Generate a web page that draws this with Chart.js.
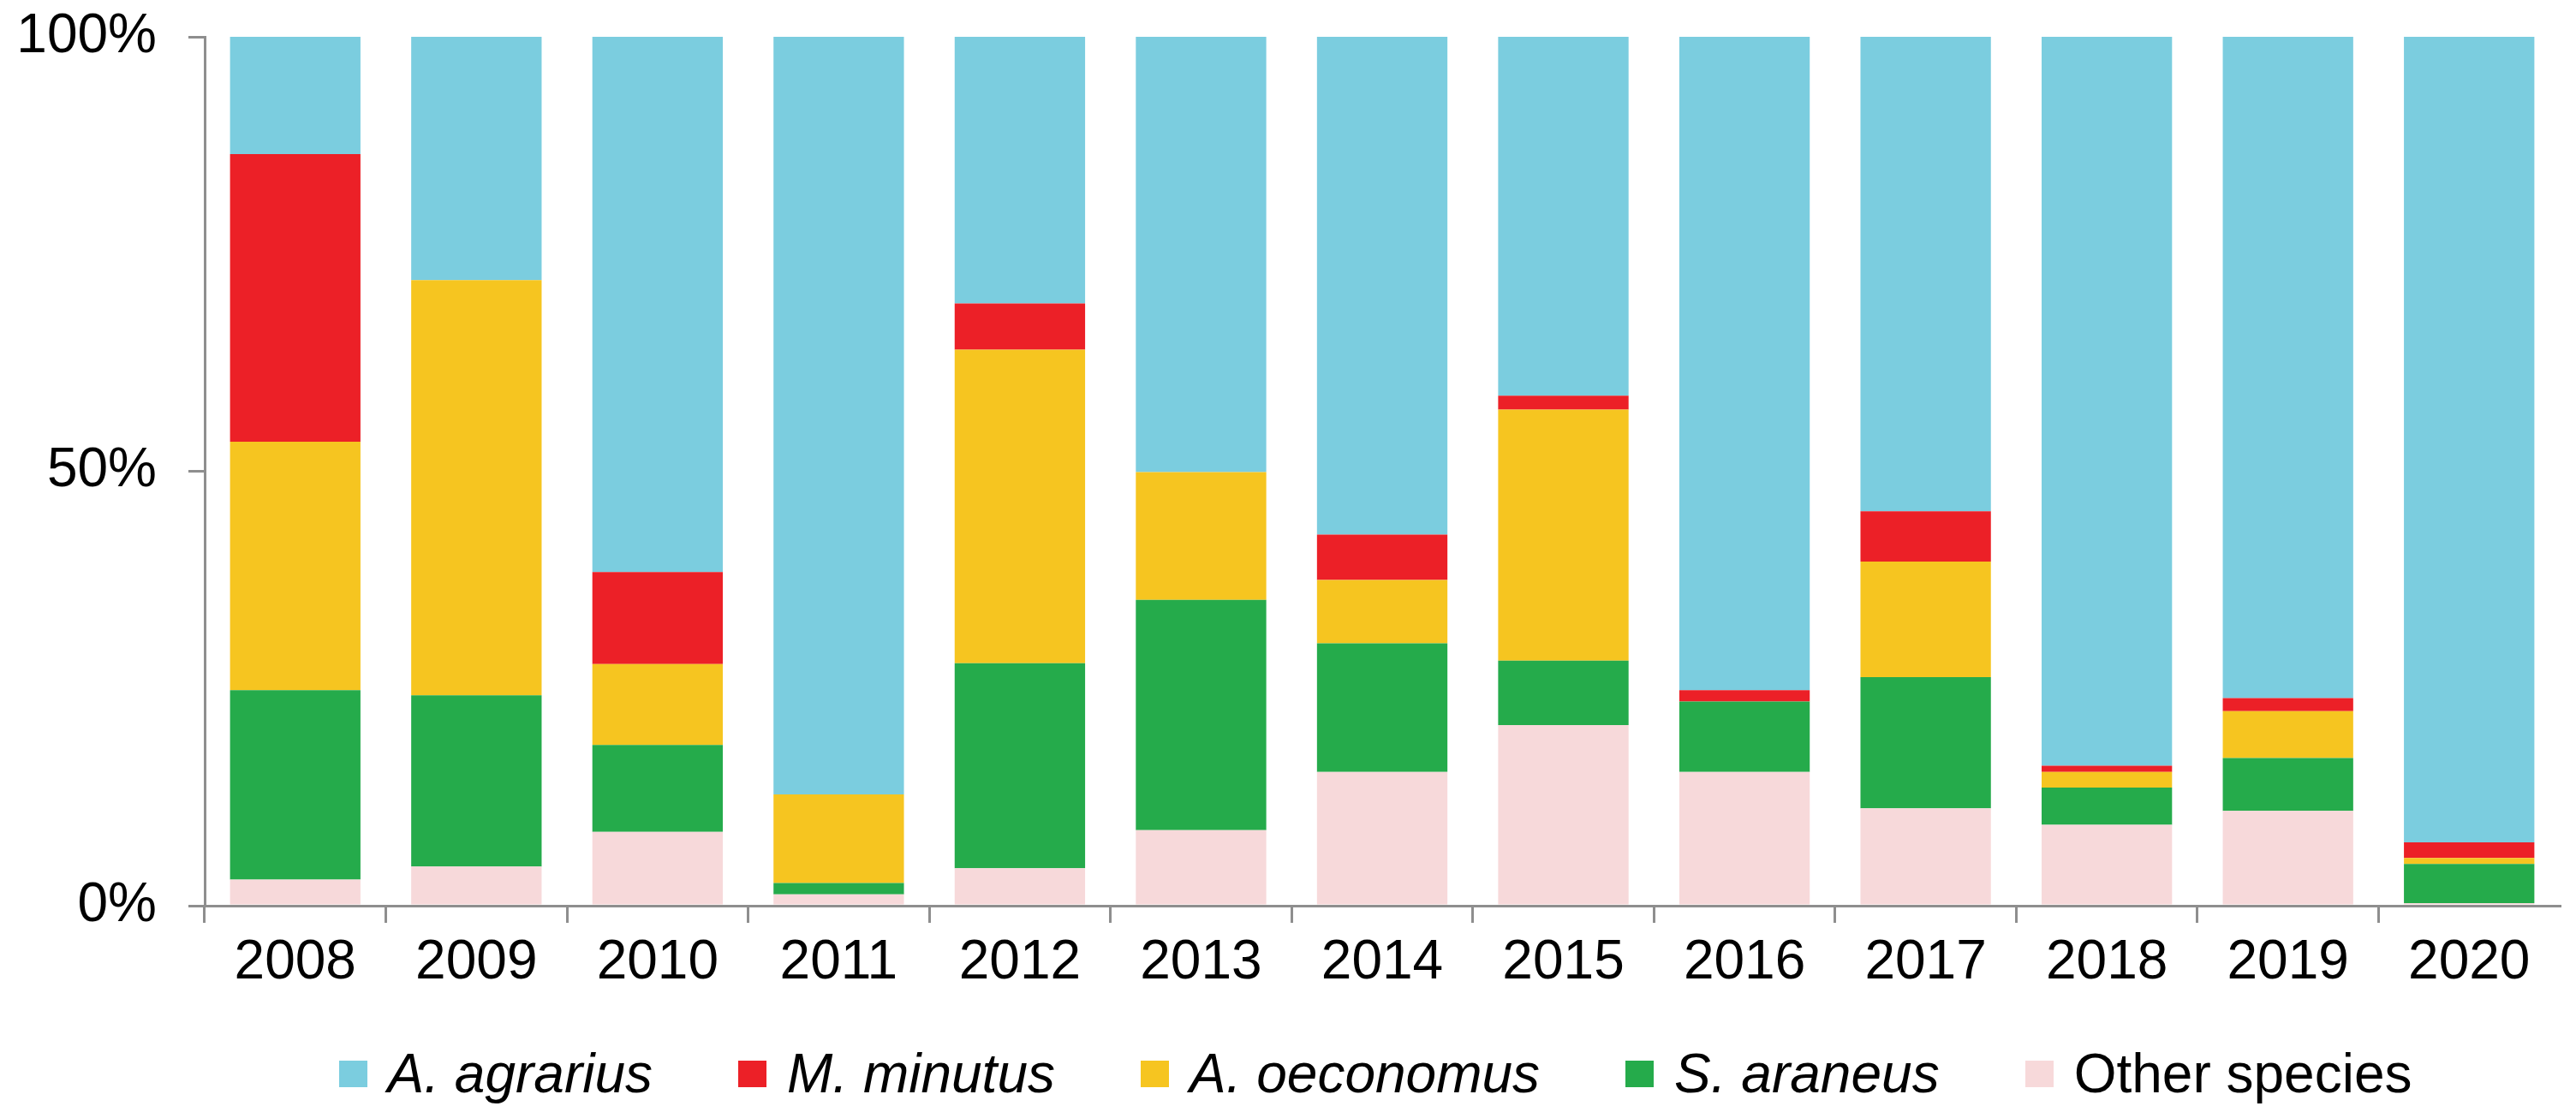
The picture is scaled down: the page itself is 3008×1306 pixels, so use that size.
<!DOCTYPE html>
<html>
<head>
<meta charset="utf-8">
<script src="https://cdn.jsdelivr.net/npm/chart.js@4/dist/chart.umd.min.js"></script>
<style>
  html, body { margin: 0; padding: 0; background: #ffffff; }
  #wrap { position: relative; width: 3008px; height: 1306px; }
  #legend {
    position: absolute; left: 231px; width: 2750px; top: 1218px; height: 72px;
    display: flex; justify-content: center; align-items: center;
    font-family: "Liberation Sans", Arial, sans-serif; font-size: 64px; color: #000;
  }
  .item { display: flex; align-items: center; margin: 0 50px; white-space: nowrap; }
  .box { width: 33px; height: 31px; margin-right: 24px; }
</style>
</head>
<body>
<div id="wrap">
  <canvas id="c" width="3008" height="1306"></canvas>
  <div id="legend"></div>
</div>
<script>
// ---- data (percent of catch) ----
const years = ['2008','2009','2010','2011','2012','2013','2014','2015','2016','2017','2018','2019','2020'];
const agrarius  = [13.5, 28.0, 61.6, 87.2, 30.7, 50.1, 57.3, 41.3, 75.2, 54.6, 83.9, 76.1, 92.7];
const minutus   = [33.1,  0.0, 10.6,  0.0,  5.3,  0.0,  5.2,  1.6,  1.3,  5.8,  0.7,  1.5,  1.8];
const oeconomus = [28.6, 47.8,  9.3, 10.2, 36.1, 14.7,  7.3, 28.9,  0.0, 13.3,  1.8,  5.4,  0.7];
const araneus   = [21.8, 19.7, 10.0,  1.3, 23.6, 26.5, 14.8,  7.4,  8.1, 15.1,  4.3,  6.1,  4.5];
const other     = [ 3.0,  4.5,  8.5,  1.3,  4.3,  8.7, 15.4, 20.8, 15.4, 11.2,  9.3, 10.9,  0.3];
const yTicks = [0, 50, 100];
const seriesNames = ['A. agrarius', 'M. minutus', 'A. oeconomus', 'S. araneus', 'Other species'];
const italicNames = [true, true, true, true, false];
const colors = ['#7BCDDF', '#EC2027', '#F6C520', '#25AB4B', '#F7D9DA'];
const seriesData = [agrarius, minutus, oeconomus, araneus, other];

const axisGray = '#8e8e8e';
const fontFamily = '"Liberation Sans", Arial, sans-serif';
Chart.defaults.font.family = fontFamily;
Chart.defaults.color = '#000';

// datasets bottom -> top
const datasets = [];
for (let i = seriesNames.length - 1; i >= 0; i--) {
  datasets.push({
    label: seriesNames[i],
    data: seriesData[i],
    backgroundColor: colors[i],
    borderWidth: 0,
    categoryPercentage: 0.72,
    barPercentage: 1.0
  });
}

const chart = new Chart(document.getElementById('c'), {
  type: 'bar',
  data: { labels: years, datasets: datasets },
  options: {
    responsive: false,
    devicePixelRatio: 1,
    animation: false,
    layout: { padding: { top: 43, right: 19, left: 0, bottom: 0 } },
    plugins: { legend: { display: false }, tooltip: { enabled: false } },
    scales: {
      x: {
        stacked: true,
        afterFit: (s) => { s.height = 1306 - 1058; s.paddingLeft = 0; s.paddingRight = 0; },
        grid: {
          offset: true,
          drawOnChartArea: false,
          drawTicks: true,
          tickLength: 20,
          lineWidth: 3,
          color: (c) => (c.type === 'tick' ? axisGray : 'rgba(0,0,0,0)')
        },
        border: { display: true, color: axisGray, width: 3 },
        ticks: { font: { size: 64 }, color: '#000', padding: 9, maxRotation: 0, autoSkip: false }
      },
      y: {
        stacked: true,
        min: 0, max: 100,
        afterFit: (s) => { s.width = 239; s.paddingTop = 0; s.paddingBottom = 0; },
        afterBuildTicks: (s) => { s.ticks = yTicks.map(v => ({ value: v })); },
        grid: {
          drawOnChartArea: false,
          drawTicks: true,
          tickLength: 19,
          lineWidth: 3,
          color: axisGray
        },
        border: { display: true, color: axisGray, width: 3 },
        ticks: {
          font: { size: 64 }, color: '#000', padding: 37,
          callback: (v) => v + '%'
        }
      }
    }
  }
});

// HTML legend built from the chart's datasets (top series first)
const legendEl = document.getElementById('legend');
const ds = chart.data.datasets.slice().reverse();
ds.forEach((d, i) => {
  const item = document.createElement('div');
  item.className = 'item';
  const box = document.createElement('span');
  box.className = 'box';
  box.style.background = d.backgroundColor;
  const txt = document.createElement('span');
  txt.textContent = d.label;
  if (italicNames[i]) txt.style.fontStyle = 'italic';
  item.appendChild(box);
  item.appendChild(txt);
  legendEl.appendChild(item);
});
</script>
</body>
</html>
